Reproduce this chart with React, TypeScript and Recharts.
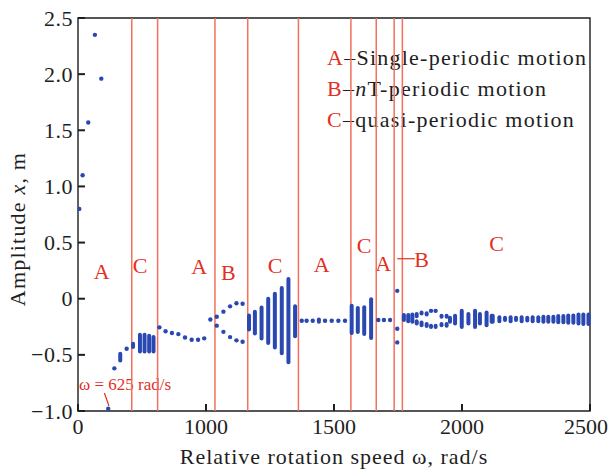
import React from 'react';
import {
  ComposedChart,
  XAxis,
  YAxis,
  Scatter,
  ReferenceLine,
  ReferenceArea,
  Customized,
} from 'recharts';

// ---------- axes ----------
const xTicks = [500, 1000, 1500, 2000, 2500];
const xTickLabels = ['0', '1000', '1500', '2000', '2500'];
const yTicks = [-1, -0.5, 0, 0.5, 1, 1.5, 2, 2.5];
const yTickLabels = ['\u22121.0', '\u22120.5', '0', '0.5', '1.0', '1.5', '2.0', '2.5'];

// ---------- regime boundaries (rad/s) ----------
const regimeBoundaries = [710, 811, 1035, 1163, 1361, 1566, 1665, 1735, 1767];

// ---------- single points [omega, x] ----------
const singlePoints: [number, number][] = [
  [505, 0.8], [518, 1.1], [540, 1.57], [566, 2.35], [591, 1.96],
  [618, -0.98], [642, -0.62], [690, -0.445],
  [818, -0.255], [842, -0.29], [867, -0.305], [892, -0.315], [918, -0.345],
  [944, -0.365], [969, -0.365], [993, -0.353], [1017, -0.185],
  [1042, -0.16], [1068, -0.115], [1094, -0.068], [1119, -0.04], [1143, -0.045],
  [1042, -0.24], [1068, -0.295], [1094, -0.342], [1119, -0.371], [1143, -0.383],
  [1374, -0.196], [1393, -0.196], [1417, -0.196], [1465, -0.196], [1491, -0.196],
  [1517, -0.196], [1543, -0.196],
  [1673, -0.19], [1695, -0.19], [1719, -0.19],
  [1747, 0.07], [1747, -0.267], [1747, -0.389],
  [1879, -0.108], [1897, -0.108],
];

// ---------- point clouds [omega, top, bottom] ----------
const pointRanges: [number, number, number][] = [
  [665, -0.49, -0.55], [715, -0.4, -0.43],
  [742, -0.32, -0.47], [760, -0.32, -0.47], [778, -0.33, -0.47], [795, -0.34, -0.47],
  [1168, -0.15, -0.275], [1191, -0.115, -0.31], [1217, -0.078, -0.355], [1243, 0.0, -0.395],
  [1269, 0.045, -0.435], [1296, 0.095, -0.485], [1322, 0.175, -0.565], [1348, -0.068, -0.335],
  [1441, -0.185, -0.205],
  [1569, -0.062, -0.305], [1593, -0.083, -0.296], [1618, -0.077, -0.314], [1645, -0.005, -0.35],
  [1773, -0.145, -0.19], [1790, -0.145, -0.2], [1806, -0.14, -0.205],
  [1823, -0.137, -0.156], [1823, -0.2, -0.221],
  [1842, -0.123, -0.132], [1842, -0.212, -0.236],
  [1862, -0.13, -0.14], [1862, -0.226, -0.244],
  [1879, -0.241, -0.251], [1897, -0.241, -0.251],
  [1920, -0.152, -0.16], [1920, -0.226, -0.236],
  [1940, -0.152, -0.16], [1940, -0.226, -0.24],
  [1953, -0.17, -0.206], [1973, -0.152, -0.221], [1999, -0.108, -0.251],
  [2025, -0.137, -0.221], [2051, -0.108, -0.251], [2070, -0.137, -0.221],
  [2096, -0.123, -0.236], [2116, -0.152, -0.206],
  [2120, -0.152, -0.206], [2146, -0.165, -0.2], [2168, -0.17, -0.19], [2190, -0.165, -0.2],
  [2211, -0.17, -0.19], [2233, -0.165, -0.2], [2255, -0.17, -0.195], [2276, -0.165, -0.2],
  [2298, -0.165, -0.2], [2318, -0.16, -0.205], [2337, -0.16, -0.205], [2357, -0.16, -0.205],
  [2376, -0.155, -0.21], [2396, -0.155, -0.21], [2415, -0.15, -0.215], [2435, -0.15, -0.215],
  [2455, -0.14, -0.22], [2474, -0.14, -0.225], [2494, -0.14, -0.225],
];

// ---------- annotations ----------
const regimeLetters = ['A', 'C', 'A', 'B', 'C', 'A', 'C', 'A', 'B', 'C'];
const legendRows = [
  { key: 'A', text: '\u2013Single-periodic motion' },
  { key: 'B', text: '\u2013nT-periodic motion' },
  { key: 'C', text: '\u2013quasi-periodic motion' },
];
const criticalSpeedLabel = '\u03c9 = 625 rad/s';

const W = 609;
const H = 471;
const FONT = '"Liberation Serif", "Times New Roman", Times, serif';
const RED_TEXT = '#e3301f';
const RED_LINE = '#f2705d';
const BLUE = '#2a48b2';
const INK = '#1e1e1e';

const dotData = singlePoints.map(([x, y]) => ({ x, y }));

const YTick = (props: any) => {
  const { x, y, index } = props;
  return (
    <g>
      <line x1={x} y1={y} x2={x + 7} y2={y} stroke={INK} strokeWidth={2} />
      <text x={x - 5} y={y + 7.5} textAnchor="end" fontSize={22} fontFamily={FONT} fill={INK} letterSpacing={0.5}>
        {yTickLabels[index]}
      </text>
    </g>
  );
};

const XTick = (props: any) => {
  const { x, y, index } = props;
  const last = index === xTickLabels.length - 1;
  return (
    <g>
      <line x1={x} y1={y} x2={x} y2={y - 7} stroke={INK} strokeWidth={2} />
      <text x={last ? x - 4 : x} y={y + 23} textAnchor="middle" fontSize={22} fontFamily={FONT} fill={INK}>
        {xTickLabels[index]}
      </text>
    </g>
  );
};

const letterPos = [
  [101.7, 279], [140, 272.5], [199.3, 274], [228.3, 280], [275, 272.5],
  [321.7, 271.5], [364, 252.5], [383.3, 271], [421.7, 267], [496.7, 251],
];

const Annotations = () => (
  <g fontFamily={FONT}>
    {regimeLetters.map((l, i) => (
      <text key={i} x={letterPos[i][0]} y={letterPos[i][1]} textAnchor="middle" fontSize={22} fill={RED_TEXT}>
        {l}
      </text>
    ))}
    {legendRows.map((r, i) => (
      <text key={r.key} x={327} y={65 + i * 31} fontSize={22} letterSpacing={1.25} fill={INK}>
        <tspan fill={RED_TEXT}>{r.key}</tspan>
        {r.key === 'B' ? (
          <>
            <tspan>{'\u2013'}</tspan>
            <tspan fontStyle="italic">n</tspan>
            <tspan>T-periodic motion</tspan>
          </>
        ) : (
          <tspan>{r.text}</tspan>
        )}
      </text>
    ))}
    <text x={79} y={390} fontSize={17} fill={RED_TEXT}>
      {criticalSpeedLabel}
    </text>
    <text x={334} y={464} textAnchor="middle" fontSize={22} fill={INK} letterSpacing={1}>
      Relative rotation speed ω, rad/s
    </text>
    <text
      x={25}
      y={229}
      textAnchor="middle"
      fontSize={22}
      fill={INK}
      letterSpacing={1.2}
      transform="rotate(-90 25 229)"
    >
      Amplitude <tspan fontStyle="italic">x</tspan>, m
    </text>
  </g>
);

export default function App() {
  return (
    <div style={{ position: 'absolute', left: 0, top: 0, width: W, height: H, background: '#fff' }}>
      <ComposedChart width={W} height={H} margin={{ top: 18, right: 19, bottom: 0, left: 0 }}>
        <XAxis
          type="number"
          dataKey="x"
          domain={[500, 2500]}
          ticks={xTicks}
          allowDataOverflow
          height={60}
          axisLine={false}
          tickLine={false}
          tickSize={0}
          tickMargin={0}
          tick={<XTick />}
          interval={0}
        />
        <YAxis
          type="number"
          dataKey="y"
          domain={[-1, 2.5]}
          ticks={yTicks}
          allowDataOverflow
          width={78}
          axisLine={false}
          tickLine={false}
          tickSize={0}
          tickMargin={0}
          tick={<YTick />}
          interval={0}
        />
        {regimeBoundaries.map((b) => (
          <ReferenceLine key={b} x={b} stroke={RED_LINE} strokeWidth={1.5} />
        ))}
        <ReferenceArea x1={500} x2={2500} y1={-1} y2={2.5} fill="none" stroke={INK} strokeWidth={1.4} strokeOpacity={1} fillOpacity={0} />
        <ReferenceLine
          segment={[{ x: 603, y: -0.84 }, { x: 621, y: -0.955 }]}
          stroke={RED_TEXT}
          strokeWidth={1.2}
        />
        <ReferenceLine
          segment={[{ x: 1747, y: 0.356 }, { x: 1816, y: 0.356 }]}
          stroke={RED_TEXT}
          strokeWidth={1.2}
        />
        {pointRanges.map(([x, top, bottom], i) => (
          <ReferenceLine
            key={'r' + i}
            segment={[{ x, y: top }, { x, y: bottom }]}
            stroke={BLUE}
            strokeWidth={4}
            strokeLinecap="round"
          />
        ))}
        <Scatter
          data={dotData}
          isAnimationActive={false}
          shape={(p: any) => <circle cx={p.cx} cy={p.cy} r={2.2} fill={BLUE} />}
        />
        <Customized component={Annotations} />
      </ComposedChart>
    </div>
  );
}
